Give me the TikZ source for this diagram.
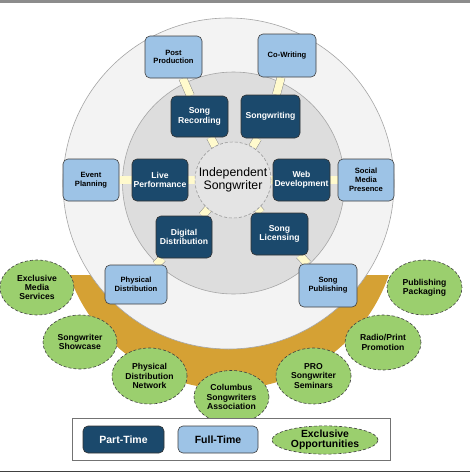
\documentclass[tikz,border=0pt]{standalone}
\usepackage{fontspec}
\setmainfont{Liberation Sans}
\usetikzlibrary{shapes.geometric}
\definecolor{darkblue}{RGB}{27,73,108}
\definecolor{lightblue}{RGB}{157,195,230}
\definecolor{greenfill}{RGB}{155,207,110}
\definecolor{bandorange}{RGB}{213,161,52}
\definecolor{cream}{RGB}{255,250,205}
\definecolor{outerfill}{RGB}{243,243,243}
\definecolor{innerfill}{RGB}{221,221,221}
\definecolor{centerfill}{RGB}{228,228,228}
\pgfdeclarelayer{back}
\pgfdeclarelayer{bg}
\pgfsetlayers{back,bg,main}
\tikzset{
  darkbox/.style={draw=black!80, line width=0.6pt, fill=darkblue, rounded corners=5pt,
    inner sep=0pt, align=center, text=white,
    font=\fontsize{8.6}{9.2}\selectfont\bfseries},
  lightbox/.style={draw=black!75, line width=0.6pt, fill=lightblue, rounded corners=5pt,
    inner sep=0pt, align=center, text=black,
    font=\fontsize{7.6}{8.8}\selectfont\bfseries},
  oppell/.style={ellipse, draw=black!75, densely dashed, line width=0.6pt, fill=greenfill,
    inner sep=0pt, align=center, text=black,
    font=\fontsize{8.6}{9.2}\selectfont\bfseries},
  conn/.style={draw=black!45, line width=0.5pt, double=cream, double distance=7.5pt},
}
\begin{document}
\begin{tikzpicture}[x=1pt,y=-1pt]
\useasboundingbox (0,0) rectangle (470,472);
\fill[black!45] (0,0) rectangle (470,3);
\fill[black!75] (0,470.5) rectangle (470,472);

% nodes
\node[circle, draw=black!40, densely dashed, line width=0.6pt, fill=centerfill,
  minimum size=76pt, inner sep=0pt, align=center,
  font=\fontsize{12.3}{13.4}\selectfont] (ctr) at (233,180) {Independent\\Songwriter};

\node[darkbox, minimum width=57pt, minimum height=41pt] (rec) at (199.5,116.5) {Song\\Recording};
\node[darkbox, minimum width=59pt, minimum height=43pt] (sw) at (270.5,116.5) {Songwriting};
\node[darkbox, minimum width=56pt, minimum height=42pt] (live) at (160,180) {Live\\Performance};
\node[darkbox, minimum width=57pt, minimum height=42pt] (web) at (301.5,180) {Web\\Development};
\node[darkbox, minimum width=56pt, minimum height=42pt] (dig) at (184,237) {Digital\\Distribution};
\node[darkbox, minimum width=57pt, minimum height=42pt] (lic) at (279.5,234) {Song\\Licensing};

\node[lightbox, minimum width=57pt, minimum height=42pt] (post) at (173.5,57) {Post\\Production};
\node[lightbox, minimum width=58pt, minimum height=43pt] (cow) at (287,55.5) {Co-Writing};
\node[lightbox, minimum width=56pt, minimum height=42pt] (evt) at (91,180) {Event\\Planning};
\node[lightbox, minimum width=56pt, minimum height=42pt] (smp) at (366,180) {Social\\Media\\Presence};
\node[lightbox, minimum width=62pt, minimum height=39pt] (phd) at (136,284.5) {Physical\\Distribution};
\node[lightbox, minimum width=58pt, minimum height=43pt] (spub) at (328,285.5) {Song\\Publishing};

\node[oppell, minimum width=74pt, minimum height=55pt] (ems) at (37,287.5) {Exclusive\\Media\\Services};
\node[oppell, minimum width=74pt, minimum height=54pt] (ssc) at (80,342) {Songwriter\\Showcase};
\node[oppell, minimum width=75pt, minimum height=56pt] (pdn) at (149.5,376) {Physical\\Distribution\\Network};
\node[oppell, minimum width=75pt, minimum height=53pt] (csa) at (231.5,397) {Columbus\\Songwriters\\Association};
\node[oppell, minimum width=75pt, minimum height=56pt] (pro) at (313.5,376) {PRO\\Songwriter\\Seminars};
\node[oppell, minimum width=76pt, minimum height=55pt] (rpp) at (383,342.5) {Radio/Print\\Promotion};
\node[oppell, minimum width=75pt, minimum height=55pt] (ppk) at (424.5,287.5) {Publishing\\Packaging};

% legend
\node[draw=black!55, line width=0.7pt, fill=white, minimum width=318pt, minimum height=42pt,
  inner sep=0pt] (legend) at (231,439) {};
\node[darkbox, minimum width=81pt, minimum height=27pt, font=\fontsize{10.5}{11}\selectfont\bfseries]
  (lpt) at (123.5,439.5) {Part-Time};
\node[lightbox, minimum width=80pt, minimum height=27pt, font=\fontsize{10.5}{11}\selectfont\bfseries]
  (lft) at (218,439.5) {Full-Time};
\node[oppell, minimum width=106pt, minimum height=24pt, font=\fontsize{10.4}{10.3}\selectfont\bfseries]
  (lex) at (325,440) {Exclusive\\Opportunities};

% background circles and band
\begin{pgfonlayer}{back}
  \fill[white] (0,3) rectangle (470,470.5);
  \begin{scope}
    \clip (0,275) rectangle (470,472);
    \fill[bandorange] (229,220) circle [radius=169pt];
  \end{scope}
  \draw[black!35, line width=0.6pt, fill=outerfill] (228.5,183.5) circle [radius=165.5pt];
  \draw[black!35, line width=0.6pt, fill=innerfill] (233.5,183) circle [radius=111pt];
\end{pgfonlayer}

% connectors
\begin{pgfonlayer}{bg}
  \draw[conn] (ctr) -- (rec);
  \draw[conn] (ctr) -- (sw);
  \draw[conn] (ctr) -- (live);
  \draw[conn] (ctr) -- (web);
  \draw[conn] (ctr) -- (dig);
  \draw[conn] (ctr) -- (lic);
  \draw[conn] (rec) -- (post);
  \draw[conn] (sw) -- (cow);
  \draw[conn] (live) -- (evt);
  \draw[conn] (web) -- (smp);
  \draw[conn] (dig) -- (phd);
  \draw[conn] (lic) -- (spub);
\end{pgfonlayer}
\end{tikzpicture}
\end{document}
